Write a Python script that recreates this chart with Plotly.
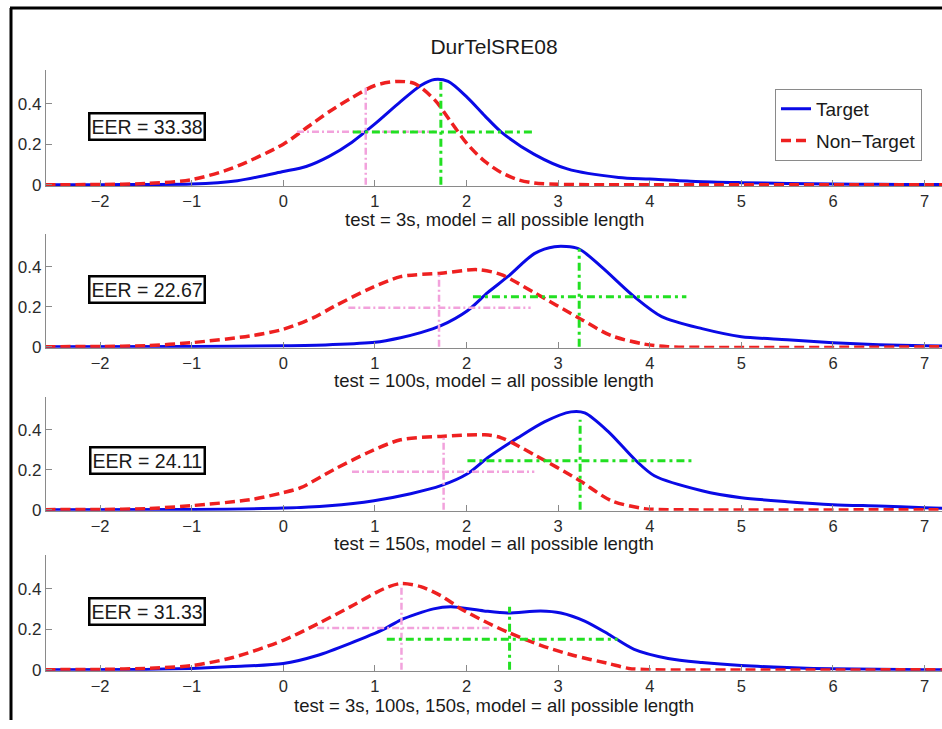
import plotly.graph_objects as go
from plotly.subplots import make_subplots

# ---------------- data ----------------
# Panel 1: test = 3s
tgt1_x = [-2.6, -2, -1.5, -1, -0.5, 0, 0.25, 0.5, 0.75, 1.0, 1.28, 1.5, 1.65, 1.8, 2.01, 2.2, 2.38, 2.74, 3.1, 3.66, 4, 4.5, 5, 5.5, 6, 6.5, 7, 7.3]
tgt1_y = [0, 0, 0.001, 0.003, 0.02, 0.065, 0.09, 0.14, 0.21, 0.3, 0.41, 0.49, 0.52, 0.51, 0.43, 0.34, 0.26, 0.15, 0.078, 0.036, 0.028, 0.016, 0.01, 0.006, 0.003, 0.002, 0.001, 0]
non1_x = [-2.6, -2, -1.5, -1, -0.55, 0, 0.25, 0.5, 0.75, 1.0, 1.23, 1.43, 1.65, 1.83, 2.01, 2.2, 2.38, 2.56, 2.74, 3, 3.5, 7.3]
non1_y = [0, 0.001, 0.006, 0.025, 0.083, 0.2, 0.28, 0.36, 0.43, 0.49, 0.51, 0.5, 0.42, 0.31, 0.2, 0.115, 0.06, 0.025, 0.008, 0.002, 0, 0]

# Panel 2: test = 100s
tgt2_x = [-2.6, -1, 0, 0.5, 1, 1.28, 1.5, 1.72, 2.01, 2.23, 2.45, 2.74, 2.96, 3.22, 3.47, 3.83, 4.13, 4.57, 5, 5.5, 6, 6.5, 7, 7.3]
tgt2_y = [0, 0.001, 0.005, 0.01, 0.022, 0.045, 0.07, 0.105, 0.18, 0.27, 0.35, 0.465, 0.5, 0.49, 0.4, 0.25, 0.15, 0.09, 0.05, 0.035, 0.02, 0.01, 0.005, 0.003]
non2_x = [-2.6, -2, -1.5, -1, -0.36, 0, 0.33, 0.55, 0.92, 1.28, 1.72, 2.12, 2.38, 2.74, 3.22, 3.58, 3.94, 4.2, 7.3]
non2_y = [0, 0.001, 0.005, 0.02, 0.054, 0.087, 0.145, 0.2, 0.285, 0.35, 0.367, 0.385, 0.36, 0.27, 0.145, 0.055, 0.013, 0, 0]

# Panel 3: test = 150s
tgt3_x = [-2.6, -1, 0, 0.5, 0.99, 1.39, 1.72, 2.01, 2.23, 2.56, 2.85, 3.14, 3.29, 3.55, 3.84, 4.05, 4.57, 5, 5.5, 6, 6.5, 7, 7.3]
tgt3_y = [0, 0.001, 0.008, 0.02, 0.045, 0.08, 0.12, 0.18, 0.26, 0.36, 0.44, 0.49, 0.485, 0.39, 0.25, 0.17, 0.095, 0.06, 0.04, 0.025, 0.018, 0.01, 0.006]
non3_x = [-2.6, -2, -1.5, -1, -0.36, 0, 0.19, 0.55, 0.92, 1.28, 1.72, 2.2, 2.38, 2.74, 3.22, 3.58, 3.94, 4.2, 7.3]
non3_y = [0, 0.001, 0.005, 0.02, 0.05, 0.085, 0.11, 0.2, 0.285, 0.35, 0.367, 0.375, 0.36, 0.275, 0.15, 0.045, 0.005, 0, 0]

# Panel 4: test = 3s, 100s, 150s
tgt4_x = [-2.6, -1.5, -1, -0.55, 0, 0.37, 0.73, 1.1, 1.28, 1.64, 1.83, 2.19, 2.45, 2.81, 3.03, 3.29, 3.55, 3.83, 4.2, 4.57, 5, 5.5, 6, 7, 7.3]
tgt4_y = [0, 0.001, 0.006, 0.015, 0.03, 0.07, 0.13, 0.2, 0.245, 0.3, 0.31, 0.29, 0.28, 0.29, 0.28, 0.24, 0.175, 0.1, 0.055, 0.035, 0.02, 0.01, 0.004, 0, 0]
non4_x = [-2.6, -2, -1.46, -1, -0.55, 0, 0.37, 0.73, 1.1, 1.28, 1.5, 1.72, 1.94, 2.19, 2.45, 2.81, 3.17, 3.55, 3.77, 4, 7.3]
non4_y = [0, 0.001, 0.007, 0.02, 0.06, 0.145, 0.225, 0.31, 0.4, 0.425, 0.41, 0.365, 0.3, 0.24, 0.185, 0.12, 0.07, 0.03, 0.006, 0, 0]

# statistic markers (per panel): centre, vertical top, horizontal level, horizontal extent
tgt_mean = [1.72, 3.23, 3.24, 2.47]
tgt_vtop = [0.52, 0.49, 0.45, 0.31]
tgt_hlev = [0.26, 0.25, 0.245, 0.15]
tgt_lo = [0.76, 2.07, 2.01, 1.13]
tgt_hi = [2.73, 4.40, 4.46, 3.65]
non_mean = [0.9, 1.70, 1.75, 1.29]
non_vtop = [0.49, 0.37, 0.365, 0.42]
non_hlev = [0.262, 0.195, 0.19, 0.205]
non_lo = [0.15, 0.71, 0.75, 0.37]
non_hi = [1.65, 2.70, 2.74, 2.27]

eer_values = ["33.38", "22.67", "24.11", "31.33"]
xlabels = ["test = 3s, model = all possible length",
           "test = 100s, model = all possible length",
           "test = 150s, model = all possible length",
           "test = 3s, 100s, 150s, model = all possible length"]
xticks = [-2, -1, 0, 1, 2, 3, 4, 5, 6, 7]
yticks = [0, 0.2, 0.4]
yticktext = ["0", "0.2", "0.4"]
title_text = "DurTelSRE08"

tgt_x = [tgt1_x, tgt2_x, tgt3_x, tgt4_x]
tgt_y = [tgt1_y, tgt2_y, tgt3_y, tgt4_y]
non_x = [non1_x, non2_x, non3_x, non4_x]
non_y = [non1_y, non2_y, non3_y, non4_y]

# ---------------- layout constants ----------------
W, H = 942, 729
FONT = "Liberation Sans, Arial, sans-serif"
BLUE = "#0a0ae6"
RED = "#ee2020"
GREEN = "#22e022"
PINK = "#f2a2dc"
AXC = "#8a8a8a"

axis_px = [187, 351, 516, 678]      # pixel row of y = 0
scale_px = [205, 202.5, 202, 205]   # pixels per unit y
YLO, YHI = -0.006, 0.565
xlabel_px = [222, 385, 550, 714]
eer_px = [128.5, 293.5, 466, 619.5]

fig = make_subplots(rows=4, cols=1)

for i in range(4):
    r = i + 1
    show = (i == 0)
    fig.add_trace(go.Scatter(x=tgt_x[i], y=tgt_y[i], mode="lines", name="Target",
                             line=dict(color=BLUE, width=3, shape="spline", smoothing=0.8),
                             showlegend=show, legendgroup="t"), row=r, col=1)
    fig.add_trace(go.Scatter(x=non_x[i], y=non_y[i], mode="lines", name="Non\u2212Target",
                             line=dict(color=RED, width=3.5, dash="10px,5px", shape="spline", smoothing=0.8),
                             showlegend=show, legendgroup="n"), row=r, col=1)
    # non-target statistics (pink)
    fig.add_trace(go.Scatter(x=[non_mean[i], non_mean[i]], y=[0, non_vtop[i]], mode="lines",
                             line=dict(color=PINK, width=2.5, dash="7px,3px,2px,3px"),
                             showlegend=False, hoverinfo="skip"), row=r, col=1)
    fig.add_trace(go.Scatter(x=[non_lo[i], non_hi[i]], y=[non_hlev[i], non_hlev[i]], mode="lines",
                             line=dict(color=PINK, width=2.5, dash="7px,3px,2px,3px"),
                             showlegend=False, hoverinfo="skip"), row=r, col=1)
    # target statistics (green)
    fig.add_trace(go.Scatter(x=[tgt_mean[i], tgt_mean[i]], y=[0, tgt_vtop[i]], mode="lines",
                             line=dict(color=GREEN, width=3, dash="8px,4px,3px,4px"),
                             showlegend=False, hoverinfo="skip"), row=r, col=1)
    fig.add_trace(go.Scatter(x=[tgt_lo[i], tgt_hi[i]], y=[tgt_hlev[i], tgt_hlev[i]], mode="lines",
                             line=dict(color=GREEN, width=3, dash="8px,4px,3px,4px"),
                             showlegend=False, hoverinfo="skip"), row=r, col=1)

    bottom_px = axis_px[i] - YLO * scale_px[i]
    top_px = axis_px[i] - YHI * scale_px[i]
    xa = "xaxis" if i == 0 else f"xaxis{r}"
    ya = "yaxis" if i == 0 else f"yaxis{r}"
    fig.layout[xa].update(domain=[46 / W, 1.0], range=[-2.59, 7.19],
                          tickvals=xticks, ticktext=[str(v).replace("-", "\u2212") for v in xticks],
                          ticks="inside", ticklen=6, tickcolor=AXC, tickwidth=1,
                          showline=True, linecolor=AXC, linewidth=1.2,
                          showgrid=False, zeroline=False,
                          tickfont=dict(family=FONT, size=16.5, color="#2a2a2a"))
    fig.layout[ya].update(domain=[1 - bottom_px / H, 1 - top_px / H], range=[YLO, YHI],
                          tickvals=yticks, ticktext=yticktext,
                          ticks="inside", ticklen=6, tickcolor=AXC, tickwidth=1,
                          showline=True, linecolor=AXC, linewidth=1.2,
                          showgrid=False, zeroline=False,
                          tickfont=dict(family=FONT, size=17, color="#2a2a2a"))
    fig.add_annotation(xref="paper", yref="paper", x=494 / W, y=1 - xlabel_px[i] / H,
                       text=xlabels[i], showarrow=False, xanchor="center", yanchor="middle",
                       font=dict(family=FONT, size=18.5, color="#1a1a1a"))
    fig.add_annotation(xref="paper", yref="paper", x=147 / W, y=1 - eer_px[i] / H,
                       text=f"EER = {eer_values[i]}", showarrow=False, xanchor="center", yanchor="middle",
                       font=dict(family=FONT, size=19.5, color="#1a1a1a"),
                       bordercolor="black", borderwidth=2.5, borderpad=1, bgcolor="white")

# figure frame (top and left edges)
fig.add_shape(type="line", xref="paper", yref="paper", x0=10 / W, x1=1, y0=1 - 8 / H, y1=1 - 8 / H,
              line=dict(color="black", width=3))
fig.add_shape(type="line", xref="paper", yref="paper", x0=11 / W, x1=11 / W, y0=1 - 8 / H, y1=0,
              line=dict(color="black", width=3))

fig.update_layout(
    width=W, height=H,
    margin=dict(l=0, r=0, t=0, b=0),
    paper_bgcolor="white", plot_bgcolor="white",
    title=dict(text=title_text, x=494 / W, xanchor="center", y=1 - 47 / H, yanchor="middle",
               font=dict(family=FONT, size=21, color="#1a1a1a")),
    showlegend=True,
    legend=dict(x=775 / W, y=1 - 90 / H, xanchor="left", yanchor="top",
                bgcolor="white", bordercolor="#8a8a8a", borderwidth=1,
                font=dict(family=FONT, size=19, color="#1a1a1a"),
                traceorder="grouped", tracegroupgap=4, itemwidth=30),
    font=dict(family=FONT),
)

fig.write_html("out.html")
